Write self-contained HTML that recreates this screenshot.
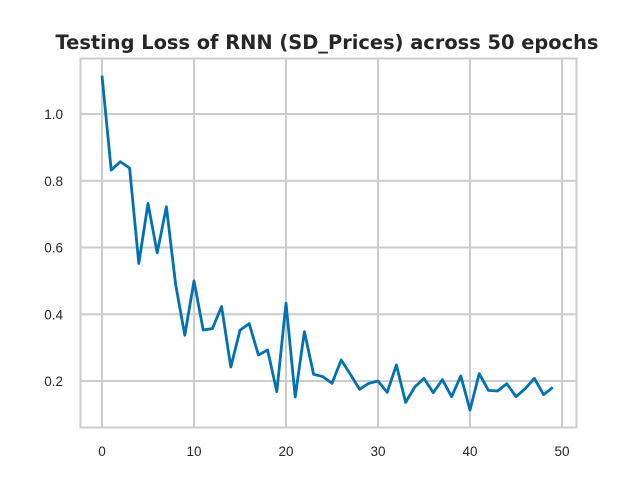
<!DOCTYPE html>
<html><head><meta charset="utf-8"><style>
body{margin:0;background:#fff;}
svg{display:block;font-family:"Liberation Sans","DejaVu Sans",sans-serif;}
</style></head><body>
<svg id="chart" width="640" height="480">
<text x="327" y="49" text-anchor="middle" font-size="19.4" font-weight="bold" fill="#262626" font-family="DejaVu Sans, sans-serif">Testing Loss of RNN (SD_Prices) across 50 epochs</text>
<g id="grid"></g>
<g id="ticks"></g>
<path id="line" fill="none" stroke="#0072b2" stroke-width="2.8" stroke-linejoin="round"></path>
<rect x="80.5" y="58.5" width="496" height="369" fill="none" stroke="#cccccc" stroke-width="2"></rect>
</svg>
<script>
const epochs = Array.from({length:50},(_,i)=>i);
const losses = [1.115,0.832,0.857,0.838,0.552,0.732,0.584,0.722,0.49,0.337,0.5,0.353,0.357,0.423,0.242,0.352,0.372,0.278,0.293,0.168,0.433,0.152,0.348,0.22,0.213,0.193,0.263,0.22,0.175,0.193,0.2,0.166,0.248,0.136,0.182,0.208,0.165,0.204,0.153,0.215,0.113,0.222,0.172,0.17,0.192,0.153,0.177,0.208,0.159,0.181];
const xTicks = [0,10,20,30,40,50];
const yTicks = [0.2,0.4,0.6,0.8,1.0];
const NS="http://www.w3.org/2000/svg";
const xs = v => 102 + v*9.2;
const ys = v => 381 - (v-0.2)*333.75;
const grid=document.getElementById('grid'), ticks=document.getElementById('ticks');
xTicks.forEach(t=>{
  const l=document.createElementNS(NS,'line');
  
  
  l.setAttribute('x1',xs(t));l.setAttribute('x2',xs(t));l.setAttribute('y1',58);l.setAttribute('y2',427);
  l.setAttribute('stroke','#cccccc');l.setAttribute('stroke-width','2');grid.appendChild(l);
  const tx=document.createElementNS(NS,'text');
  
  
  tx.setAttribute('x',xs(t));tx.setAttribute('y',456);tx.setAttribute('text-anchor','middle');
  tx.setAttribute('font-size','13.5');tx.setAttribute('fill','#262626');tx.textContent=t;ticks.appendChild(tx);
});
yTicks.forEach(t=>{
  const l=document.createElementNS(NS,'line');
  
  
  l.setAttribute('x1',80);l.setAttribute('x2',576);l.setAttribute('y1',ys(t));l.setAttribute('y2',ys(t));
  l.setAttribute('stroke','#cccccc');l.setAttribute('stroke-width','2');grid.appendChild(l);
  const tx=document.createElementNS(NS,'text');
  
  
  tx.setAttribute('x',63);tx.setAttribute('y',ys(t)+5);tx.setAttribute('text-anchor','end');
  tx.setAttribute('font-size','13.5');tx.setAttribute('fill','#262626');tx.textContent=t.toFixed(1);ticks.appendChild(tx);
});
document.getElementById('line').setAttribute('d',losses.map((v,i)=>(i?'L':'M')+xs(epochs[i])+','+ys(v)).join(' '));
</script>
</body></html>
